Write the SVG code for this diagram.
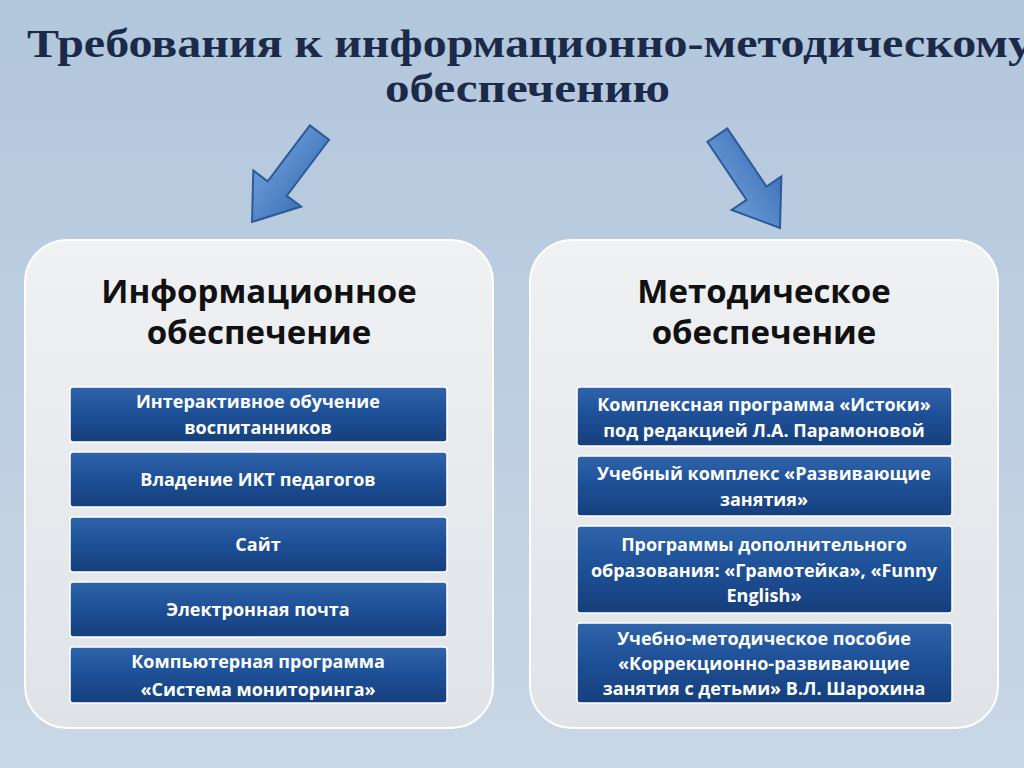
<svg xmlns="http://www.w3.org/2000/svg" width="1024" height="768" viewBox="0 0 1024 768">
<defs>
<linearGradient id="bg" x1="0" y1="0" x2="0" y2="1"><stop offset="0" stop-color="#b2c6dc"/><stop offset="1" stop-color="#c9d7e6"/></linearGradient>
<linearGradient id="panel" x1="0" y1="0" x2="0" y2="1"><stop offset="0" stop-color="#f0f1f3"/><stop offset="1" stop-color="#dfe3e8"/></linearGradient>
<linearGradient id="box" x1="0" y1="0" x2="0" y2="1"><stop offset="0" stop-color="#2f63aa"/><stop offset="0.5" stop-color="#1d4f96"/><stop offset="1" stop-color="#163f7c"/></linearGradient>
<linearGradient id="arr" x1="0" y1="0" x2="1" y2="0"><stop offset="0" stop-color="#6b9ad6"/><stop offset="1" stop-color="#3f74bb"/></linearGradient>
</defs>
<style>
.title{font-family:"Liberation Serif",serif;font-weight:bold;font-size:39px;fill:#1a2a48}
.ph{font-family:"Open Sans","Liberation Sans",sans-serif;font-weight:bold;font-size:33px;fill:#111}
.panel{fill:url(#panel);stroke:#fff;stroke-width:2}
.box{fill:url(#box);stroke:#fff;stroke-width:1.5}
.bt{font-family:"Open Sans","Liberation Sans",sans-serif;font-weight:bold;font-size:18px;fill:#fff;text-anchor:middle}
.arrow{fill:url(#arr);stroke:#2c5a96;stroke-width:2}
</style>
<rect width="1024" height="768" fill="url(#bg)"/>
<text class="title" x="27" y="57" textLength="1005" lengthAdjust="spacingAndGlyphs">Требования к информационно-методическому</text>
<text class="title" x="385" y="102" textLength="285" lengthAdjust="spacingAndGlyphs">обеспечению</text>
<g id="connectors">
<polygon class="arrow" transform="translate(252,222) rotate(37)" points="-12,-112 12,-112 12,-42 30,-42 0,0 -30,-42 -12,-42"/>
<polygon class="arrow" transform="translate(780,228) rotate(-34)" points="-12,-112 12,-112 12,-42 30,-42 0,0 -30,-42 -12,-42"/>
</g>
<g id="left-panel">
<rect class="panel" x="25" y="240" width="468" height="488" rx="42"/>
<text class="ph" x="259" y="303" text-anchor="middle">Информационное</text>
<text class="ph" x="259" y="344" text-anchor="middle">обеспечение</text>
</g>
<g id="right-panel">
<rect class="panel" x="530" y="240" width="468" height="488" rx="42"/>
<text class="ph" x="764" y="303" text-anchor="middle">Методическое</text>
<text class="ph" x="764" y="344" text-anchor="middle">обеспечение</text>
</g>
<g id="l1"><rect class="box" x="70" y="387" width="377" height="55" rx="3"/><text class="bt" x="258" y="408">Интерактивное обучение</text><text class="bt" x="258" y="434">воспитанников</text></g>
<g id="l2"><rect class="box" x="70" y="452" width="377" height="55" rx="3"/><text class="bt" x="258" y="486">Владение ИКТ педагогов</text></g>
<g id="l3"><rect class="box" x="70" y="517" width="377" height="55" rx="3"/><text class="bt" x="258" y="551">Сайт</text></g>
<g id="l4"><rect class="box" x="70" y="582" width="377" height="55" rx="3"/><text class="bt" x="258" y="616">Электронная почта</text></g>
<g id="l5"><rect class="box" x="70" y="647" width="377" height="56" rx="3"/><text class="bt" x="258" y="668">Компьютерная программа</text><text class="bt" x="258" y="696">«Система мониторинга»</text></g>
<g id="r1"><rect class="box" x="577" y="387" width="375" height="59" rx="3"/><text class="bt" x="764" y="411">Комплексная программа «Истоки»</text><text class="bt" x="764" y="437">под редакцией Л.А. Парамоновой</text></g>
<g id="r2"><rect class="box" x="577" y="456" width="375" height="60" rx="3"/><text class="bt" x="764" y="480">Учебный комплекс «Развивающие</text><text class="bt" x="764" y="506">занятия»</text></g>
<g id="r3"><rect class="box" x="577" y="526" width="375" height="87" rx="3"/><text class="bt" x="764" y="551">Программы дополнительного</text><text class="bt" x="764" y="577">образования: «Грамотейка», «Funny</text><text class="bt" x="764" y="602">English»</text></g>
<g id="r4"><rect class="box" x="577" y="623" width="375" height="80" rx="3"/><text class="bt" x="764" y="645">Учебно-методическое пособие</text><text class="bt" x="764" y="670">«Коррекционно-развивающие</text><text class="bt" x="764" y="695">занятия с детьми» В.Л. Шарохина</text></g>
</svg>
